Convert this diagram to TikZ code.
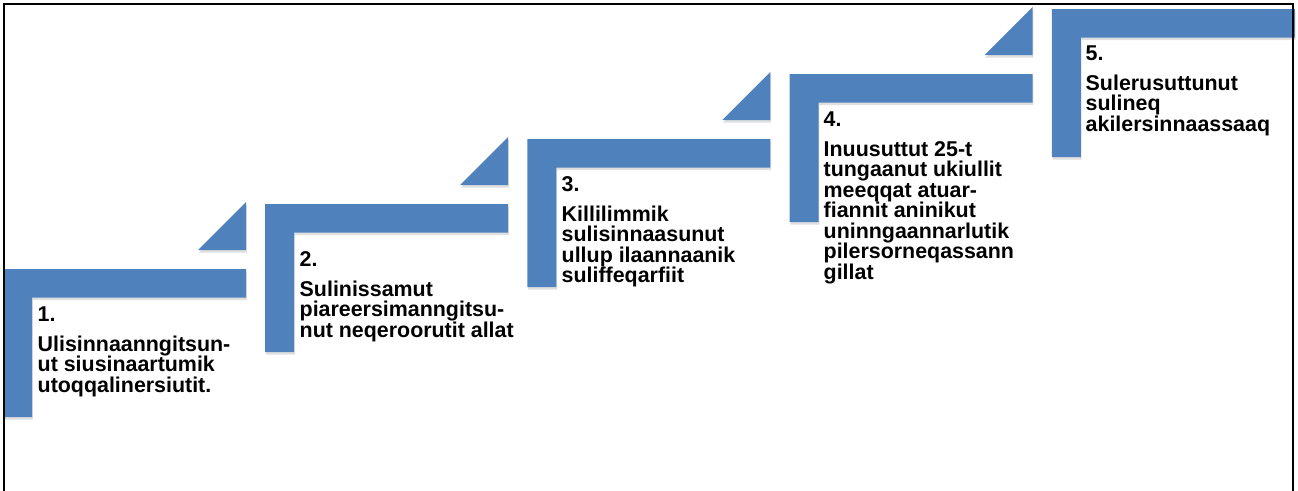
\documentclass[tikz,border=0pt]{standalone}
\usepackage{fontspec}
\setmainfont{Liberation Sans}
\usetikzlibrary{shadows}
\definecolor{stepblue}{RGB}{79,129,189}

\begin{document}
\begin{tikzpicture}[
  x=1pt, y=-1pt,
  stepshape/.style={fill=stepblue, drop shadow={opacity=0.25, shadow xshift=0.8pt, shadow yshift=-2.5pt}},
  steptext/.style={anchor=base west, inner sep=0pt,
                   font=\bfseries\fontsize{21.4}{20.5}\selectfont},
  frame/.style={draw=black, line width=1.4pt}
]
\useasboundingbox (0,0) rectangle (1298,490);

% the five stairs, each one 262 to the right and 65 higher
\foreach \i in {0,...,4} {
  \pgfmathsetmacro{\L}{3+262.2*\i}
  \pgfmathsetmacro{\T}{269-65*\i}
  \fill[stepshape] (\L,\T) -- ++(243,0) -- ++(0,28.5) -- ++(-214,0)
        -- ++(0,119.5) -- ++(-29,0) -- cycle;
  \ifnum\i<4
    \fill[stepshape] (\L+195,\T-19) -- ++(48,0) -- ++(0,-48) -- cycle;
  \fi
}

\node[steptext] (s1) at (37.5,321) {\parbox[t]{260pt}{\raggedright
  1.\\[9.5pt]Ulisinnaanngitsun-\\ut siusinaartumik\\utoqqalinersiutit.}};
\node[steptext] (s2) at (299.5,266) {\parbox[t]{260pt}{\raggedright
  2.\\[9.5pt]Sulinissamut\\piareersimanngitsu-\\nut neqeroorutit allat}};
\node[steptext] (s3) at (561.5,191) {\parbox[t]{260pt}{\raggedright
  3.\\[9.5pt]Killilimmik\\sulisinnaasunut\\ullup ilaannaanik\\suliffeqarfiit}};
\node[steptext] (s4) at (823.5,126) {\parbox[t]{260pt}{\raggedright
  4.\\[9.5pt]Inuusuttut 25-t\\tungaanut ukiullit\\meeqqat atuar-\\fiannit aninikut\\uninngaannarlutik\\pilersorneqassann\\gillat}};
\node[steptext] (s5) at (1085.5,60) {\parbox[t]{260pt}{\raggedright
  5.\\[9.5pt]Sulerusuttunut\\sulineq\\akilersinnaassaaq}};

% outer frame, its lower edge lies below the page
\draw[frame] (4,500) -- (4,4) -- (1293,4) -- (1293,500);
\end{tikzpicture}
\end{document}
